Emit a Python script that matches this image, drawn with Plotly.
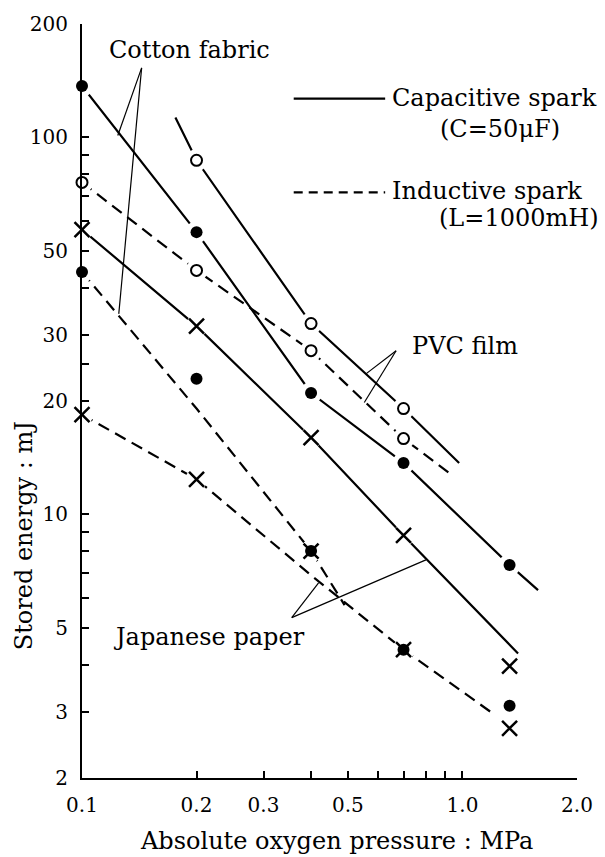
import math
import plotly.graph_objects as go

# ---------------- data ----------------
pressure = [0.1, 0.2, 0.4, 0.7, 1.33]          # MPa
cotton_cap = [137, 56.1, 21.0, 13.7, 7.35]      # Cotton fabric, capacitive spark (mJ)
cotton_ind = [44, 22.9, 8.0, 4.38, 3.11]        # Cotton fabric, inductive spark
jp_cap = [57, 31.6, 16.0, 8.8, 3.96]            # Japanese paper, capacitive spark
jp_ind = [18.4, 12.4, 8.0, 4.38, 2.71]          # Japanese paper, inductive spark
pvc_cap_x = [0.2, 0.4, 0.7]
pvc_cap = [87, 32.1, 19.1]                      # PVC film, capacitive spark
pvc_ind_x = [0.1, 0.2, 0.4, 0.7]
pvc_ind = [76, 44.4, 27.2, 15.9]                # PVC film, inductive spark

# hand-drawn trend curves
cotton_cap_curve_x = [0.1, 0.2, 0.4, 0.7, 1.33, 1.58]
cotton_cap_curve_y = [137, 56.1, 21.0, 13.7, 7.35, 6.3]
pvc_cap_curve_x = [0.176, 0.2, 0.4, 0.7, 0.98]
pvc_cap_curve_y = [113, 87, 32.1, 19.1, 13.7]
pvc_ind_curve_x = [0.1, 0.2, 0.4, 0.7, 0.94]
pvc_ind_curve_y = [76, 44.4, 27.2, 15.9, 12.7]
jp_cap_curve_x = [0.1, 0.2, 0.4, 0.7, 1.40]
jp_cap_curve_y = [57, 31.6, 16.0, 8.8, 4.28]
cotton_ind_curve_x = [0.1, 0.2, 0.4, 0.49]
cotton_ind_curve_y = [44, 19.1, 8.0, 5.75]
jp_ind_curve_x = [0.1, 0.2, 0.4, 0.7, 1.2]
jp_ind_curve_y = [18.4, 12.4, 6.9, 4.38, 2.97]

x_tickvals = [0.1, 0.2, 0.3, 0.4, 0.5, 0.6, 0.7, 0.8, 0.9, 1.0, 2.0]
x_ticktext = ["0.1", "0.2", "0.3", "", "0.5", "", "", "", "", "1.0", "2.0"]
y_tickvals = [2, 3, 4, 5, 6, 7, 8, 9, 10, 20, 25, 30, 40, 50, 60, 70, 80, 90, 100, 200]
y_ticktext = ["2", "3", "", "5", "", "", "", "", "10", "20", "", "30", "", "50",
              "", "", "", "", "100", "200"]

# ---------------- figure ----------------
W, H = 605, 857
L, R, T, B = 82, 25, 21, 79
PW, PH = W - L - R, H - T - B
FONT = "DejaVu Serif"


def px(x):
    return (x - L) / PW


def py(y):
    return (H - B - y) / PH


fig = go.Figure()

SOLID = dict(color="black", width=2.2)
DASH = dict(color="black", width=2.2, dash="12px,7px")

for cx, cy, st in [
    (cotton_cap_curve_x, cotton_cap_curve_y, SOLID),
    (pvc_cap_curve_x, pvc_cap_curve_y, SOLID),
    (jp_cap_curve_x, jp_cap_curve_y, SOLID),
    (pvc_ind_curve_x, pvc_ind_curve_y, DASH),
    (cotton_ind_curve_x, cotton_ind_curve_y, DASH),
    (jp_ind_curve_x, jp_ind_curve_y, DASH),
]:
    fig.add_trace(go.Scatter(x=cx, y=cy, mode="lines", line=st,
                             hoverinfo="skip", cliponaxis=False))

# white halos around markers (gaps in the lines)
all_x = pressure * 4 + pvc_cap_x + pvc_ind_x
all_y = cotton_cap + cotton_ind + jp_cap + jp_ind + pvc_cap + pvc_ind
fig.add_trace(go.Scatter(x=all_x, y=all_y, mode="markers",
                         marker=dict(symbol="circle", size=22, color="white",
                                     line=dict(width=0)),
                         hoverinfo="skip", cliponaxis=False))

filled = dict(symbol="circle", size=12, color="black", line=dict(width=0))
opened = dict(symbol="circle", size=11, color="white",
              line=dict(color="black", width=2))
cross = dict(symbol="x-thin", size=15, color="black",
             line=dict(color="black", width=2.5))

fig.add_trace(go.Scatter(x=pressure, y=cotton_cap, mode="markers", marker=filled,
                         name="Cotton fabric (capacitive)", cliponaxis=False))
fig.add_trace(go.Scatter(x=pressure, y=cotton_ind, mode="markers", marker=filled,
                         name="Cotton fabric (inductive)", cliponaxis=False))
fig.add_trace(go.Scatter(x=pvc_cap_x, y=pvc_cap, mode="markers", marker=opened,
                         name="PVC film (capacitive)", cliponaxis=False))
fig.add_trace(go.Scatter(x=pvc_ind_x, y=pvc_ind, mode="markers", marker=opened,
                         name="PVC film (inductive)", cliponaxis=False))
fig.add_trace(go.Scatter(x=pressure, y=jp_cap, mode="markers", marker=cross,
                         name="Japanese paper (capacitive)", cliponaxis=False))
fig.add_trace(go.Scatter(x=pressure, y=jp_ind, mode="markers", marker=cross,
                         name="Japanese paper (inductive)", cliponaxis=False))

shapes = []
# legend line samples
shapes.append(dict(type="line", xref="paper", yref="paper",
                   x0=px(295), x1=px(387), y0=py(96), y1=py(96),
                   line=dict(color="black", width=2.2)))
shapes.append(dict(type="line", xref="paper", yref="paper",
                   x0=px(295), x1=px(387), y0=py(190), y1=py(190),
                   line=dict(color="black", width=2.2, dash="9px,6px")))
# leader lines
for (x0, y0, x1, y1) in [
    (142, 65, 118, 133), (142, 65, 119, 312),      # Cotton fabric
    (398, 349, 368, 372), (398, 349, 366, 401),    # PVC film
    (293, 617, 320, 582), (293, 617, 428, 559),    # Japanese paper
]:
    shapes.append(dict(type="line", xref="paper", yref="paper",
                       x0=px(x0), y0=py(y0), x1=px(x1), y1=py(y1),
                       line=dict(color="black", width=1.2)))

ann_font = dict(family=FONT, size=24, color="black")
annotations = [
    dict(text="Cotton fabric", x=px(190), y=py(47)),
    dict(text="PVC film", x=px(467), y=py(344)),
    dict(text="Japanese paper", x=px(210), y=py(636)),
    dict(text="Capacitive spark", x=px(392), y=py(95), xanchor="left"),
    dict(text="(C=50μF)", x=px(503), y=py(126)),
    dict(text="Inductive spark", x=px(392), y=py(189), xanchor="left"),
    dict(text="(L=1000mH)", x=px(522), y=py(216)),
    dict(text="Absolute oxygen pressure : MPa", x=px(338), y=py(841)),
    dict(text="Stored energy : mJ", x=px(24), y=py(535), textangle=-90),
]
for a in annotations:
    a.setdefault("xanchor", "center")
    a.update(xref="paper", yref="paper", yanchor="middle", showarrow=False,
             font=ann_font)

axis_common = dict(
    type="log", showline=True, linecolor="black", linewidth=2,
    ticks="inside", ticklen=7, tickwidth=1.5, tickcolor="black",
    showgrid=False, zeroline=False, mirror=False,
    tickfont=dict(family=FONT, size=20, color="black"),
    ticklabelstandoff=8,
)

fig.update_layout(
    width=W, height=H, autosize=False,
    margin=dict(l=L, r=R, t=T, b=B, pad=0),
    paper_bgcolor="white", plot_bgcolor="white",
    showlegend=False,
    xaxis=dict(range=[math.log10(0.1), math.log10(2.0)],
               tickvals=x_tickvals, ticktext=x_ticktext, **axis_common),
    yaxis=dict(range=[math.log10(2), math.log10(200)],
               tickvals=y_tickvals, ticktext=y_ticktext, **axis_common),
    shapes=shapes,
    annotations=annotations,
)

fig.write_html("out.html")
